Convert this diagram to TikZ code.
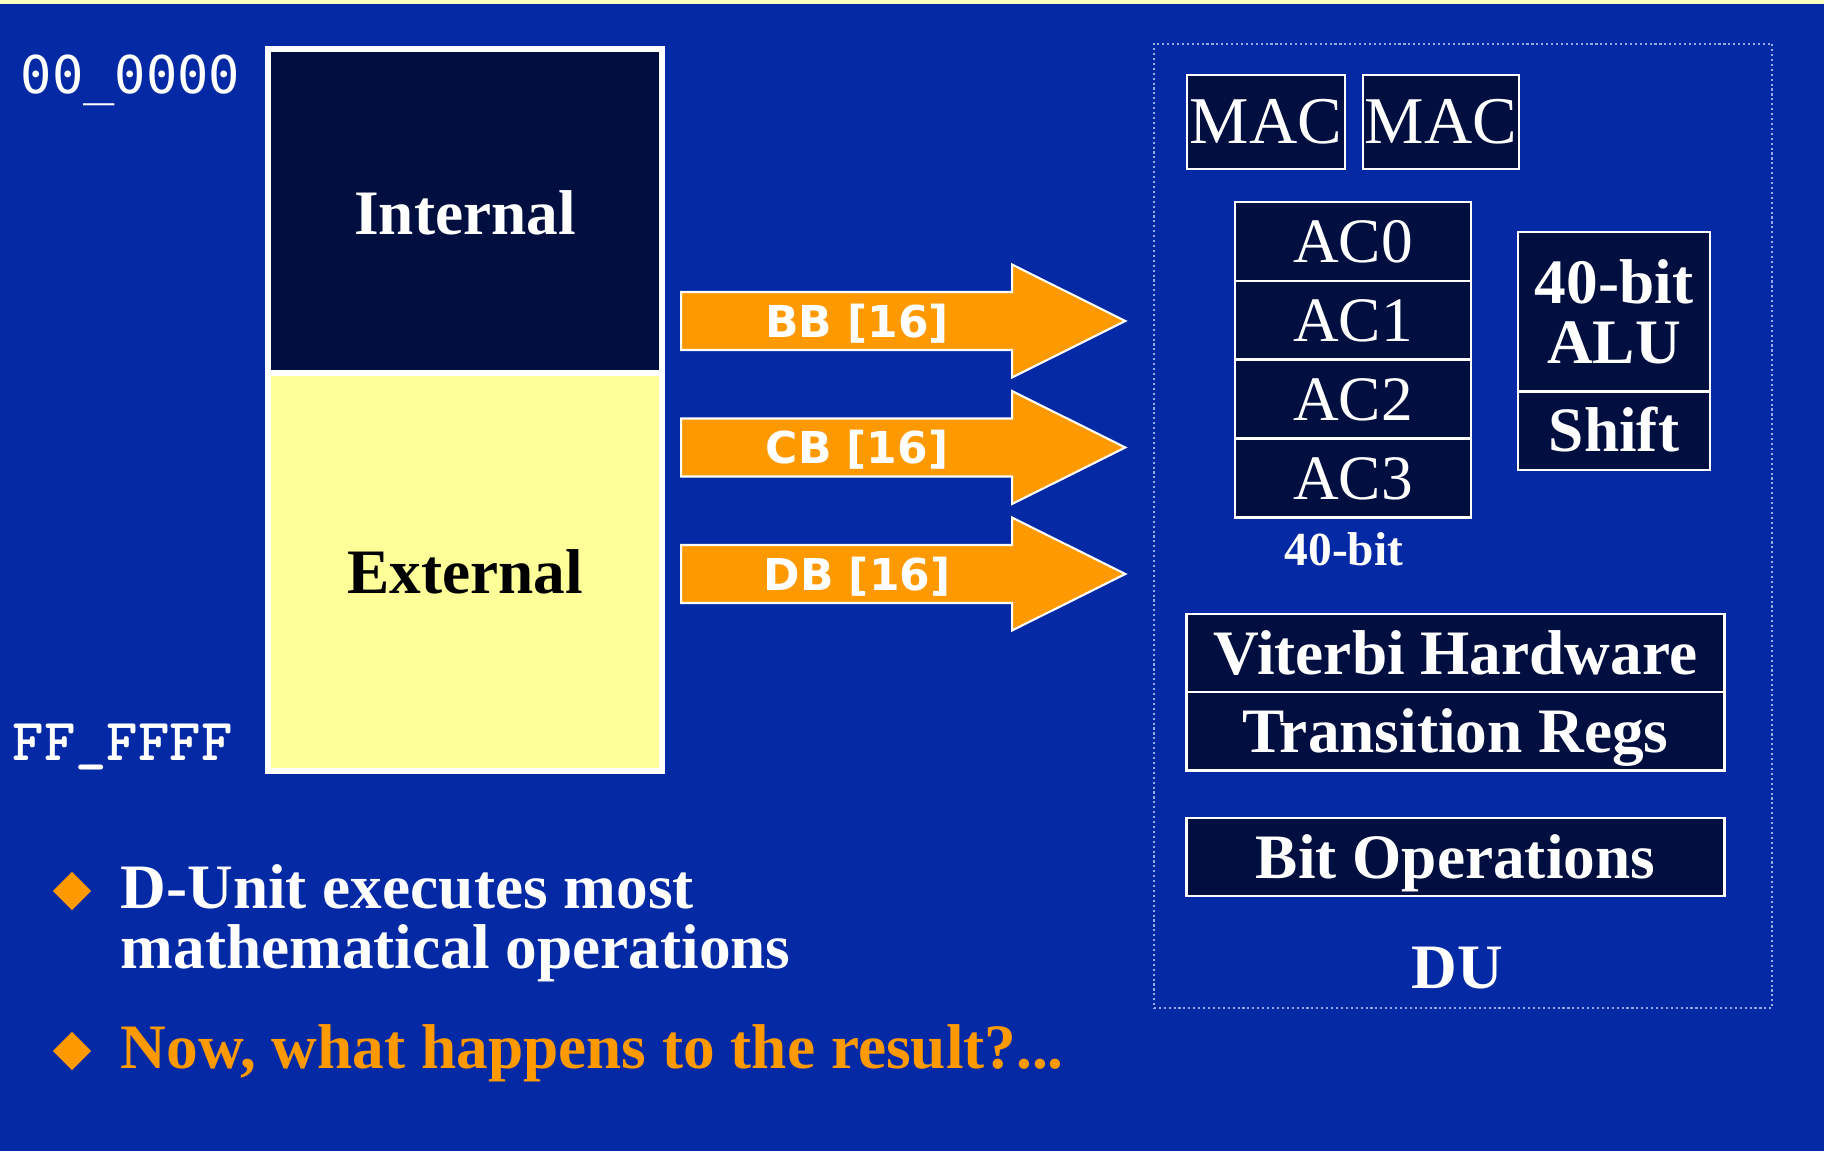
\documentclass[tikz,border=0pt]{standalone}
\usepackage{fontspec}
\setmainfont{Liberation Serif}
\newfontfamily\busfont{DejaVu Sans}
\newfontfamily\addrfont{DejaVu Sans Mono}
\usetikzlibrary{shapes.geometric,shapes.arrows}
\definecolor{slideblue}{RGB}{4,41,165}
\definecolor{navy}{RGB}{0,14,64}
\definecolor{paleyellow}{RGB}{255,255,153}
\definecolor{busorange}{RGB}{255,153,0}
\definecolor{dotblue}{RGB}{150,170,225}
\tikzstyle{membox}=[rectangle,draw=white,line width=1.7pt,minimum width=3.94cm,inner sep=0pt,font=\fontsize{18}{20}\selectfont\bfseries]
\tikzstyle{bus}=[single arrow,fill=busorange,draw=white,line width=0.6pt,minimum height=4.44cm,minimum width=0pt,single arrow head extend=7.8pt,single arrow tip angle=53,inner xsep=0pt,inner ysep=3.4pt,text height=9.1pt,text depth=0pt,text=white,font=\busfont\fontsize{12.5}{14}\selectfont\bfseries]
\tikzstyle{unitbase}=[rectangle,draw=white,line width=0.8pt,fill=navy,text=white,inner sep=0pt,font=\fontsize{18}{20}\selectfont]
\tikzstyle{unit}=[unitbase,text height=14pt,text depth=2pt]
\tikzstyle{boldunit}=[unit,font=\fontsize{18}{20}\selectfont\bfseries]
\tikzstyle{bullet}=[diamond,fill=busorange,minimum size=0.39cm,inner sep=0pt]

\begin{document}
\begin{tikzpicture}[x=0.01cm,y=-0.01cm]
\useasboundingbox (0,0) rectangle (1824,1151);
\fill[slideblue] (0,0) rectangle (1824,1151);
\fill[paleyellow!60] (0,0) rectangle (1824,4);
% memory map
\node[membox,fill=navy,text=white,minimum height=3.27cm] at (465,212.5) (int) {Internal};
\node[membox,fill=paleyellow,text=black,minimum height=3.97cm] at (465,572) (ext) {External};
\node[anchor=base west,inner sep=0pt,text=white,font=\addrfont\fontsize{14.8}{16}\selectfont] at (20,93) (top) {00\_0000};
\node[anchor=base west,inner sep=0pt,text=white,font=\ttfamily\bfseries\fontsize{17}{18}\selectfont] at (12,760) (bot) {FF\_FFFF};
% buses
\node[bus,anchor=tail] at (680,321) (bb) {BB [16]\hspace*{9.7pt}};
\node[bus,anchor=tail] at (680,447.5) (cb) {CB [16]\hspace*{9.7pt}};
\node[bus,anchor=tail] at (680,574) (db) {DB [16]\hspace*{9.7pt}};
% D unit
\node[draw=dotblue,line width=0.6pt,dash pattern=on 0.6pt off 0.8pt,minimum width=6.18cm,minimum height=9.64cm,inner sep=0pt] at (1463,526) (du) {};
\node[unit,font=\fontsize{19}{20}\selectfont,minimum width=1.58cm,minimum height=0.94cm] at (1266,122) (mac1) {MAC};
\node[unit,font=\fontsize{19}{20}\selectfont,minimum width=1.56cm,minimum height=0.94cm] at (1441,122) (mac2) {MAC};
\node[unit,minimum width=2.36cm,minimum height=0.789cm] at (1353,241.5) (ac0) {AC0};
\node[unit,minimum width=2.36cm,minimum height=0.789cm] at (1353,320.4) (ac1) {AC1};
\node[unit,minimum width=2.36cm,minimum height=0.789cm] at (1353,399.3) (ac2) {AC2};
\node[unit,minimum width=2.36cm,minimum height=0.789cm] at (1353,478.2) (ac3) {AC3};
\node[anchor=base,inner sep=0pt,text=white,font=\fontsize{13.5}{14}\selectfont\bfseries] at (1344,565) (acw) {40-bit};
\node[unitbase,align=center,font=\fontsize{18}{17}\selectfont\bfseries,minimum width=1.92cm,minimum height=1.594cm] at (1614,311.7) (alu) {40-bit\\ALU};
\node[boldunit,minimum width=1.92cm,minimum height=0.786cm] at (1614,430.7) (shift) {Shift};
\node[boldunit,minimum width=5.37cm,minimum height=0.78cm] at (1455.5,653) (vit) {Viterbi Hardware};
\node[boldunit,minimum width=5.37cm,minimum height=0.787cm] at (1455.5,731.4) (trans) {Transition Regs};
\node[boldunit,minimum width=5.37cm,minimum height=0.78cm] at (1455.5,857) (bitop) {Bit Operations};
\node[text=white,inner sep=0pt,font=\fontsize{18}{20}\selectfont\bfseries] at (1457,968) (dulbl) {DU};
% bullets
\node[bullet] at (72,891) (b1) {};
\node[bullet] at (72,1051) (b2) {};
\node[anchor=north west,inner sep=0pt,align=left,text=white,font=\fontsize{18}{17.1}\selectfont\bfseries] at (120,864) (t1) {D-Unit executes most\\mathematical operations};
\node[anchor=base west,inner sep=0pt,text=busorange,font=\fontsize{18}{20}\selectfont\bfseries] at (120,1068) (t2) {Now, what happens to the result?...};
\end{tikzpicture}
\end{document}
